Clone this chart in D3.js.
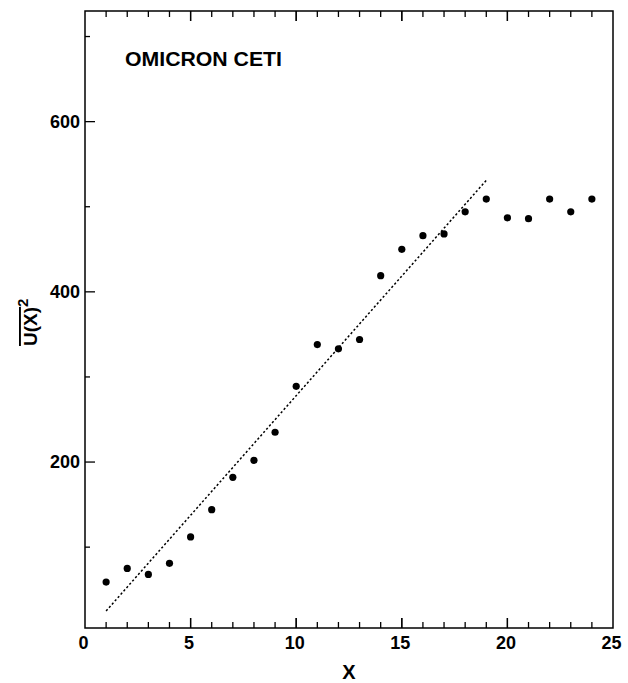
<!DOCTYPE html>
<html>
<head>
<meta charset="utf-8">
<script src="https://cdn.jsdelivr.net/npm/d3@7"></script>
<style>
  body { margin: 0; background: #fff; }
  text { font-family: "Liberation Sans", Arial, sans-serif; font-weight: bold; fill: #000; }
</style>
</head>
<body>
<svg width="628" height="683"></svg>
<script>
// **** data ****
var xValues = [1, 2, 3, 4, 5, 6, 7, 8, 9, 10, 11, 12, 13, 14, 15, 16, 17, 18, 19, 20, 21, 22, 23, 24];
var uValues = [59, 75, 68, 81, 112, 144, 182, 202, 235, 289, 338, 333, 344, 419, 450, 466, 468, 494, 509, 487, 486, 509, 494, 509];
var fitX = [1, 19];
var fitU = [25, 531];
var xTicks = [0, 5, 10, 15, 20, 25];
var yTicks = [200, 400, 600];
var title = 'OMICRON CETI';

// **** scales ****
var xScale = d3.scaleLinear().domain([0, 25]).range([85, 613]);
var yScale = d3.scaleLinear().domain([5, 730]).range([628, 11]);

var svg = d3.select('svg');

// frame
svg.append('rect')
    .attr('x', xScale(0)).attr('y', yScale(730))
    .attr('width', xScale(25) - xScale(0))
    .attr('height', yScale(5) - yScale(730))
    .attr('fill', 'none').attr('stroke', '#000').attr('stroke-width', 1.5);

// bottom axis: labels + inward ticks
var xMinor = d3.range(1, 25);
svg.append('g').attr('class', 'x axis')
    .attr('transform', 'translate(0,628)')
    .call(d3.axisBottom(xScale).tickValues(xTicks).tickSize(0).tickPadding(8))
    .call(function(g) {
        g.select('.domain').remove();
        g.selectAll('text').attr('font-size', 18).attr('dx', -2);
    });

function xTickMarks(y0, dir) {
    svg.append('g').selectAll('line')
        .data(xMinor.concat([5, 10, 15, 20]))
        .enter().append('line')
        .attr('x1', function(d) { return xScale(d); })
        .attr('x2', function(d) { return xScale(d); })
        .attr('y1', y0)
        .attr('y2', function(d) { return y0 + dir * (d % 5 == 0 ? 10 : 6); })
        .attr('stroke', '#000').attr('stroke-width', 1.3);
}
xTickMarks(628, -1);
xTickMarks(11, 1);

// left axis
svg.append('g').attr('class', 'y axis')
    .attr('transform', 'translate(85,0)')
    .call(d3.axisLeft(yScale).tickValues(yTicks).tickSize(0).tickPadding(5))
    .call(function(g) {
        g.select('.domain').remove();
        g.selectAll('text').attr('font-size', 18);
    });

svg.append('g').selectAll('line')
    .data([100, 200, 300, 400, 500, 600, 700])
    .enter().append('line')
    .attr('x1', 85)
    .attr('x2', function(d) { return 85 + (d % 200 == 0 ? 10 : 5); })
    .attr('y1', function(d) { return yScale(d); })
    .attr('y2', function(d) { return yScale(d); })
    .attr('stroke', '#000').attr('stroke-width', 1.3);

// fit line
svg.append('line')
    .attr('x1', xScale(fitX[0])).attr('y1', yScale(fitU[0]))
    .attr('x2', xScale(fitX[1])).attr('y2', yScale(fitU[1]))
    .attr('stroke', '#000').attr('stroke-width', 1.5)
    .attr('stroke-dasharray', '2.2,2.2');

// points
svg.append('g').selectAll('circle')
    .data(xValues)
    .enter().append('circle')
    .attr('cx', function(d) { return xScale(d); })
    .attr('cy', function(d, i) { return yScale(uValues[i]); })
    .attr('r', 3.6)
    .attr('fill', '#000');

// labels
svg.append('text')
    .attr('x', 125).attr('y', 66)
    .attr('font-size', 20)
    .attr('textLength', 157).attr('lengthAdjust', 'spacingAndGlyphs')
    .text(title);

svg.append('text')
    .attr('x', 349).attr('y', 679)
    .attr('text-anchor', 'middle')
    .attr('font-size', 20)
    .text('X');

var ylab = svg.append('text')
    .attr('transform', 'translate(37,346) rotate(-90)')
    .attr('font-size', 19);
ylab.append('tspan')
    .style('text-decoration', 'overline')
    .text('U(X)');
ylab.append('tspan')
    .attr('font-size', 15)
    .attr('dy', -9)
    .text('2');
</script>
</body>
</html>
